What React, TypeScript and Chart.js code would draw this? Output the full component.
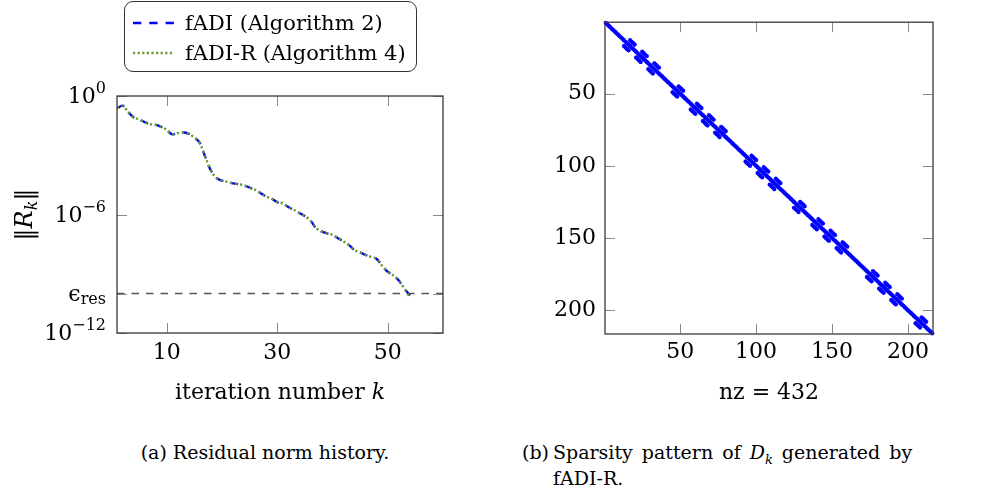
import React, { useEffect, useRef } from "react";
import { Chart, registerables } from "chart.js";

Chart.register(...registerables);

const FONT = "'DejaVu Serif', serif";
const BLUE = "#0000ff";
const GREEN = "#6a9a2e";

// ---- Residual norm history (left) ----
const iterationNumbers = [
  1, 2, 3, 4, 5, 6, 7, 8, 9, 10, 11, 12, 13, 14, 15, 16, 17, 18, 19, 20,
  21, 22, 23, 24, 25, 26, 27, 28, 29, 30, 31, 32, 33, 34, 35, 36, 37, 38, 39, 40,
  41, 42, 43, 44, 45, 46, 47, 48, 49, 50, 51, 52, 53, 54,
];
const fadiResidual = [
  2.4e-1, 3.24e-1, 1.58e-1, 8.3e-2, 6.6e-2, 4.8e-2, 3.8e-2, 3.47e-2, 2.75e-2, 1.9e-2,
  1.15e-2, 1.32e-2, 1.41e-2, 1.2e-2, 7.9e-3, 4.1e-3, 7.9e-4, 1.66e-4, 7.1e-5, 5.2e-5,
  4.5e-5, 3.8e-5, 3.4e-5, 3.0e-5, 2.3e-5, 1.78e-5, 1.2e-5, 8.1e-6, 6.3e-6, 4.2e-6,
  3.7e-6, 2.4e-6, 1.74e-6, 1.2e-6, 8.3e-7, 5.0e-7, 2.1e-7, 1.41e-7, 1.12e-7, 9.3e-8,
  6.3e-8, 4.3e-8, 2.8e-8, 1.58e-8, 1.2e-8, 8.9e-9, 7.1e-9, 5.6e-9, 2.5e-9, 1.26e-9,
  8.3e-10, 4.5e-10, 1.78e-10, 7.9e-11,
];
const fadiRResidual = [
  2.4e-1, 3.24e-1, 1.58e-1, 8.3e-2, 6.6e-2, 4.8e-2, 3.8e-2, 3.47e-2, 2.75e-2, 1.9e-2,
  1.15e-2, 1.32e-2, 1.41e-2, 1.2e-2, 7.9e-3, 4.1e-3, 7.9e-4, 1.66e-4, 7.1e-5, 5.2e-5,
  4.5e-5, 3.8e-5, 3.4e-5, 3.0e-5, 2.3e-5, 1.78e-5, 1.2e-5, 8.1e-6, 6.3e-6, 4.2e-6,
  3.7e-6, 2.4e-6, 1.74e-6, 1.2e-6, 8.3e-7, 5.0e-7, 2.1e-7, 1.41e-7, 1.12e-7, 9.3e-8,
  6.3e-8, 4.3e-8, 2.8e-8, 1.58e-8, 1.2e-8, 8.9e-9, 7.1e-9, 5.6e-9, 2.5e-9, 1.26e-9,
  8.3e-10, 4.5e-10, 1.78e-10, 6.3e-11,
];
const epsRes = 1e-10;
const residualXMin = 1;
const residualXMax = 60;
const residualXTicks = [10, 30, 50];
const residualYTickValues = [1, 1e-6, 1e-10, 1e-12];
const residualYTickMain = ["10", "10", "\u03F5", "10"];
const residualYTickSup = ["0", "\u22126", "", "\u221212"];
const residualYTickSub = ["", "", "res", ""];
const legendLabels = ["fADI (Algorithm 2)", "fADI-R (Algorithm 4)"];

// ---- Sparsity pattern (right) ----
const matrixSize = 216;
const blockStarts = [13, 21, 29, 45, 57, 65, 73, 93, 101, 109, 125, 137, 145, 153, 173, 181, 189, 205];
const blockHalf = 4;
const spyTicks = [50, 100, 150, 200];
const nzLabel = "nz = 432";

type Part = { t: string; font: string; dy: number };

function drawComposite(ctx: CanvasRenderingContext2D, parts: Part[], x: number, y: number, align: "right" | "center") {
  let total = 0;
  const widths = parts.map((p) => {
    ctx.font = p.font;
    const w = ctx.measureText(p.t).width;
    total += w;
    return w;
  });
  let cx = align === "right" ? x - total : x - total / 2;
  ctx.textAlign = "left";
  ctx.textBaseline = "alphabetic";
  parts.forEach((p, i) => {
    ctx.font = p.font;
    ctx.fillText(p.t, cx, y + p.dy);
    cx += widths[i];
  });
}

function drawBoxAndTicks(chart: any, xTicks: number[], yTicks: number[]) {
  const { ctx, chartArea } = chart;
  const { left, right, top, bottom } = chartArea;
  const xs = chart.scales.x;
  const ys = chart.scales.y;
  ctx.strokeStyle = "#8a8a8a";
  ctx.lineWidth = 1;
  xTicks.forEach((v) => {
    const px = Math.round(xs.getPixelForValue(v)) + 0.5;
    ctx.beginPath();
    ctx.moveTo(px, bottom);
    ctx.lineTo(px, bottom - 10);
    ctx.moveTo(px, top);
    ctx.lineTo(px, top + 10);
    ctx.stroke();
  });
  yTicks.forEach((v) => {
    const py = Math.round(ys.getPixelForValue(v)) + 0.5;
    ctx.beginPath();
    ctx.moveTo(left, py);
    ctx.lineTo(left + 10, py);
    ctx.moveTo(right, py);
    ctx.lineTo(right - 10, py);
    ctx.stroke();
  });
  ctx.strokeStyle = "#3a3a3a";
  ctx.lineWidth = 1.3;
  ctx.strokeRect(left, top, right - left, bottom - top);
}

const residualDecor = {
  id: "residualDecor",
  afterDraw(chart: any) {
    const { ctx, chartArea } = chart;
    const { left, right, top, bottom } = chartArea;
    const ys = chart.scales.y;
    ctx.save();
    drawBoxAndTicks(chart, residualXTicks, residualYTickValues);

    ctx.fillStyle = "#000";
    residualYTickValues.forEach((v, i) => {
      const py = ys.getPixelForValue(v);
      const parts: Part[] = [{ t: residualYTickMain[i], font: `22px ${FONT}`, dy: 7 }];
      if (residualYTickSup[i]) parts.push({ t: residualYTickSup[i], font: `16px ${FONT}`, dy: -3 });
      if (residualYTickSub[i]) parts.push({ t: residualYTickSub[i], font: `16px ${FONT}`, dy: 10 });
      drawComposite(ctx, parts, left - 11, py, "right");
    });

    drawComposite(
      ctx,
      [
        { t: "iteration number ", font: `22px ${FONT}`, dy: 0 },
        { t: "k", font: `italic 22px ${FONT}`, dy: 0 },
      ],
      (left + right) / 2,
      399,
      "center"
    );

    ctx.save();
    ctx.translate(32, (top + bottom) / 2);
    ctx.rotate(-Math.PI / 2);
    drawComposite(
      ctx,
      [
        { t: "\u2016", font: `24px ${FONT}`, dy: 0 },
        { t: "R", font: `italic 24px ${FONT}`, dy: 0 },
        { t: "k", font: `italic 16px ${FONT}`, dy: 5 },
        { t: "\u2016", font: `24px ${FONT}`, dy: 0 },
      ],
      0,
      0,
      "center"
    );
    ctx.restore();
    ctx.restore();
  },
};

const spyDecor = {
  id: "spyDecor",
  afterDraw(chart: any) {
    const { ctx, chartArea } = chart;
    const { left, right } = chartArea;
    ctx.save();
    drawBoxAndTicks(chart, spyTicks, spyTicks);
    ctx.fillStyle = "#000";
    ctx.font = `22px ${FONT}`;
    ctx.textAlign = "center";
    ctx.textBaseline = "middle";
    ctx.fillText(nzLabel, (left + right) / 2, 393);
    ctx.restore();
  },
};

function buildSpyPoints() {
  const pts: { x: number; y: number }[] = [];
  for (let i = 1; i <= matrixSize; i++) pts.push({ x: i, y: i });
  blockStarts.forEach((s) => {
    for (let j = 0; j < blockHalf; j++) {
      pts.push({ x: s + j + blockHalf, y: s + j });
      pts.push({ x: s + j, y: s + j + blockHalf });
    }
  });
  return pts;
}

export default function App() {
  const leftRef = useRef<HTMLCanvasElement | null>(null);
  const rightRef = useRef<HTMLCanvasElement | null>(null);

  useEffect(() => {
    document.body.style.margin = "0";
    const left = new Chart(leftRef.current as HTMLCanvasElement, {
      type: "line",
      data: {
        datasets: [
          {
            label: legendLabels[1],
            data: iterationNumbers.map((k, i) => ({ x: k, y: fadiRResidual[i] })),
            borderColor: GREEN,
            borderWidth: 2.4,
            borderDash: [2.2, 2.8],
            pointRadius: 0,
            cubicInterpolationMode: "monotone",
            fill: false,
            order: 0,
          },
          {
            label: legendLabels[0],
            data: iterationNumbers.map((k, i) => ({ x: k, y: fadiResidual[i] })),
            borderColor: BLUE,
            borderWidth: 2.4,
            borderDash: [8, 7],
            pointRadius: 0,
            cubicInterpolationMode: "monotone",
            fill: false,
            order: 1,
          },
          {
            label: "eps",
            data: [
              { x: residualXMin, y: epsRes },
              { x: residualXMax, y: epsRes },
            ],
            borderColor: "#555555",
            borderWidth: 1.5,
            borderDash: [7.5, 7],
            pointRadius: 0,
            fill: false,
            order: 2,
          },
        ],
      } as any,
      options: {
        responsive: false,
        animation: false,
        devicePixelRatio: 1,
        layout: { padding: { top: 96, right: 17, left: 0, bottom: 0 } },
        plugins: { legend: { display: false }, tooltip: { enabled: false } },
        scales: {
          x: {
            type: "linear",
            min: residualXMin,
            max: residualXMax,
            grid: { display: false, drawTicks: false },
            border: { display: false },
            afterBuildTicks: (s: any) => {
              s.ticks = residualXTicks.map((v) => ({ value: v }));
            },
            afterFit: (s: any) => {
              s.height = 87;
            },
            ticks: {
              font: { family: FONT, size: 22 },
              color: "#000",
              padding: 7,
              maxRotation: 0,
              autoSkip: false,
            },
          },
          y: {
            type: "logarithmic",
            min: 1e-12,
            max: 1,
            grid: { display: false, drawTicks: false },
            border: { display: false },
            ticks: { display: false },
            afterFit: (s: any) => {
              s.width = 117;
            },
          },
        },
      } as any,
      plugins: [residualDecor],
    });

    const right = new Chart(rightRef.current as HTMLCanvasElement, {
      type: "scatter",
      data: {
        datasets: [
          {
            data: buildSpyPoints(),
            pointStyle: "star",
            pointRadius: 2.2,
            pointBorderWidth: 1.2,
            borderColor: BLUE,
            backgroundColor: BLUE,
            clip: false,
          },
        ],
      } as any,
      options: {
        responsive: false,
        animation: false,
        devicePixelRatio: 1,
        layout: { padding: { top: 7, right: 67, left: 0, bottom: 0 } },
        plugins: { legend: { display: false }, tooltip: { enabled: false } },
        scales: {
          x: {
            type: "linear",
            min: 0.5,
            max: matrixSize + 0.5,
            grid: { display: false, drawTicks: false },
            border: { display: false },
            afterBuildTicks: (s: any) => {
              s.ticks = spyTicks.map((v) => ({ value: v }));
            },
            afterFit: (s: any) => {
              s.height = 86;
            },
            ticks: {
              font: { family: FONT, size: 22 },
              color: "#000",
              padding: 5,
              maxRotation: 0,
              autoSkip: false,
            },
          },
          y: {
            type: "linear",
            reverse: true,
            min: 0.5,
            max: matrixSize + 0.5,
            grid: { display: false, drawTicks: false },
            border: { display: false },
            afterBuildTicks: (s: any) => {
              s.ticks = spyTicks.map((v) => ({ value: v }));
            },
            afterFit: (s: any) => {
              s.width = 85;
            },
            ticks: {
              font: { family: FONT, size: 22 },
              color: "#000",
              padding: 9,
              autoSkip: false,
            },
          },
        },
      } as any,
      plugins: [spyDecor],
    });

    return () => {
      left.destroy();
      right.destroy();
    };
  }, []);

  return (
    <div style={{ position: "absolute", left: 0, top: 0, width: 1000, height: 486, background: "#fff", overflow: "hidden", fontFamily: FONT }}>
      <canvas ref={leftRef} width={460} height={420} style={{ position: "absolute", left: 0, top: 0 }} />
      <canvas ref={rightRef} width={480} height={420} style={{ position: "absolute", left: 520, top: 0 }} />
      <div
        style={{
          position: "absolute",
          left: 124,
          top: 1,
          width: 293,
          height: 71,
          border: "1.3px solid #333",
          borderRadius: 9,
          background: "#fff",
          boxSizing: "border-box",
        }}
      >
        {legendLabels.map((lbl, i) => (
          <div key={lbl} style={{ position: "absolute", left: 0, top: i === 0 ? 7 : 37, height: 28, width: 290, display: "flex", alignItems: "center" }}>
            <svg width={60} height={28} style={{ flex: "none" }}>
              <line
                x1={8}
                y1={14}
                x2={49}
                y2={14}
                stroke={i === 0 ? BLUE : GREEN}
                strokeWidth={2.6}
                strokeDasharray={i === 0 ? "8.3 8" : "2.2 2.4"}
              />
            </svg>
            <span style={{ fontSize: 21, color: "#000", whiteSpace: "nowrap" }}>{lbl}</span>
          </div>
        ))}
      </div>
      <div style={{ position: "absolute", left: 0, width: 530, top: 439, textAlign: "center", fontSize: 19, lineHeight: "26px" }}>
        (a) Residual norm history.
      </div>
      <div style={{ position: "absolute", left: 522, top: 439, fontSize: 19, lineHeight: "26px", whiteSpace: "nowrap" }}>(b)</div>
      <div style={{ position: "absolute", left: 553, top: 439, fontSize: 19, lineHeight: "26px", whiteSpace: "nowrap", wordSpacing: 3 }}>
        Sparsity pattern of <i>D</i>
        <sub style={{ fontSize: 13, fontStyle: "italic" }}>k</sub> generated by
      </div>
      <div style={{ position: "absolute", left: 553, top: 465, fontSize: 19, lineHeight: "26px" }}>fADI-R.</div>
    </div>
  );
}
